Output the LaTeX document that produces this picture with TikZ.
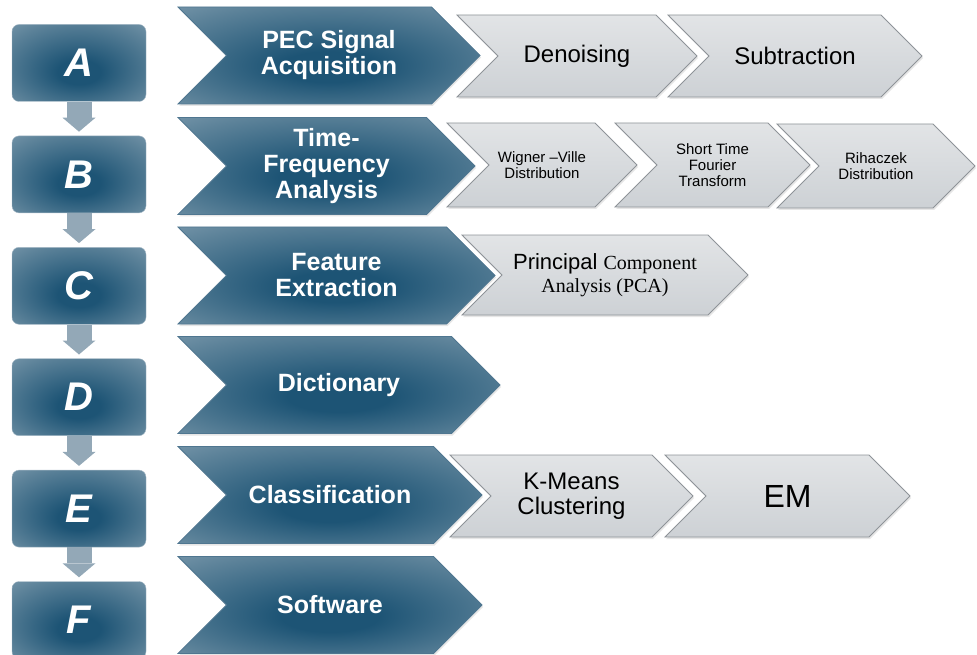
\documentclass[tikz,border=0pt]{standalone}
\usepackage{fontspec}
\setmainfont{Liberation Sans}
\newfontfamily\serifpart{Liberation Serif}
\usetikzlibrary{positioning, shapes.symbols, arrows.meta, shadows}
\definecolor{steeldark}{HTML}{1D5475}
\definecolor{steelmid}{HTML}{5C8299}
\definecolor{steellight}{HTML}{98AFBF}
\definecolor{steelrim}{HTML}{4F7690}
\definecolor{panelgray}{HTML}{CDD1D5}
\definecolor{panellight}{HTML}{E2E4E6}
\definecolor{panelrim}{HTML}{8E9398}
\definecolor{flowgray}{HTML}{93A8B7}
\pgfdeclareradialshading{steelglow}{\pgfpoint{0bp}{-7bp}}{color(0bp)=(steeldark); color(8bp)=(steeldark); color(30bp)=(steelmid); color(50bp)=(steellight)}

\begin{document}
\begin{tikzpicture}[x=1pt, y=-1pt, node distance=34pt,
	stepbox/.style={rectangle, rounded corners=7pt, minimum width=134pt, minimum height=77pt, shade, shading=steelglow, draw=steelrim!50, text=white, font=\fontsize{40}{40}\selectfont\bfseries\itshape},
	task/.style={signal, signal to=east, signal from=west, inner sep=0pt, minimum height=97pt, shade, shading=steelglow, draw=steelrim, line width=0.8pt, text=white, align=center, font=\fontsize{25}{26}\selectfont\bfseries, drop shadow={opacity=0.2, shadow xshift=1pt, shadow yshift=-2pt}},
	method/.style={signal, signal to=east, signal from=west, inner sep=0pt, minimum height=82pt, top color=panellight, bottom color=panelgray, draw=panelrim, line width=0.8pt, align=center, font=\fontsize{24}{25}\selectfont, drop shadow={opacity=0.2, shadow xshift=1pt, shadow yshift=-2pt}},
	flow/.style={draw=flowgray, line width=25pt, shorten >=4pt, -{Triangle[width=33pt, length=14pt, line width=0pt]}}]
	\useasboundingbox (0,0) rectangle (977,655);
	\node[stepbox] (s0) at (79,63) {A};
	\node[stepbox, below=of s0] (s1) {B};
	\node[stepbox, below=of s1] (s2) {C};
	\node[stepbox, below=of s2] (s3) {D};
	\node[stepbox, below=of s3] (s4) {E};
	\node[stepbox, below=of s4] (s5) {F};
	\draw[flow] (s0) -- (s1);
	\draw[flow] (s1) -- (s2);
	\draw[flow] (s2) -- (s3);
	\draw[flow] (s3) -- (s4);
	\draw[flow] (s4) -- (s5);
	\node[task, minimum width=302pt] (c0) at (329,55.5) {PEC Signal\\Acquisition};
	\node[task, minimum width=297pt] (c1) at (326.5,166) {Time-\\Frequency\\Analysis};
	\node[task, minimum width=317pt] (c2) at (336.5,275.5) {Feature\\Extraction};
	\node[task, minimum width=322pt] (c3) at (339,385) {Dictionary};
	\node[task, minimum width=304pt] (c4) at (330,495) {Classification};
	\node[task, minimum width=304pt] (c5) at (330,605) {Software};
	\node[method, minimum width=240pt] (g1) at (577,56) {Denoising};
	\node[method, minimum width=254pt] (g2) at (795,56) {Subtraction};
	\node[method, minimum width=190pt, minimum height=84pt, font=\fontsize{15}{16}\selectfont] (g3) at (542,165) {Wigner --Ville\\Distribution};
	\node[method, minimum width=195pt, minimum height=84pt, font=\fontsize{15}{16}\selectfont] (g4) at (712.5,165) {Short Time\\Fourier\\Transform};
	\node[method, minimum width=198pt, minimum height=84pt, font=\fontsize{15}{16}\selectfont] (g5) at (876,166) {Rihaczek\\Distribution};
	\node[method, minimum width=286pt, minimum height=80pt, font=\fontsize{22}{23}\selectfont] (g6) at (605,275) {Principal {\serifpart\fontsize{20}{23}\selectfont Component}\\{\serifpart\fontsize{20}{23}\selectfont Analysis (PCA)}};
	\node[method, minimum width=243pt] (g7) at (571.5,496) {K-Means\\Clustering};
	\node[method, minimum width=245pt, font=\fontsize{32}{32}\selectfont] (g8) at (787.5,496) {EM};
\end{tikzpicture}
\end{document}
